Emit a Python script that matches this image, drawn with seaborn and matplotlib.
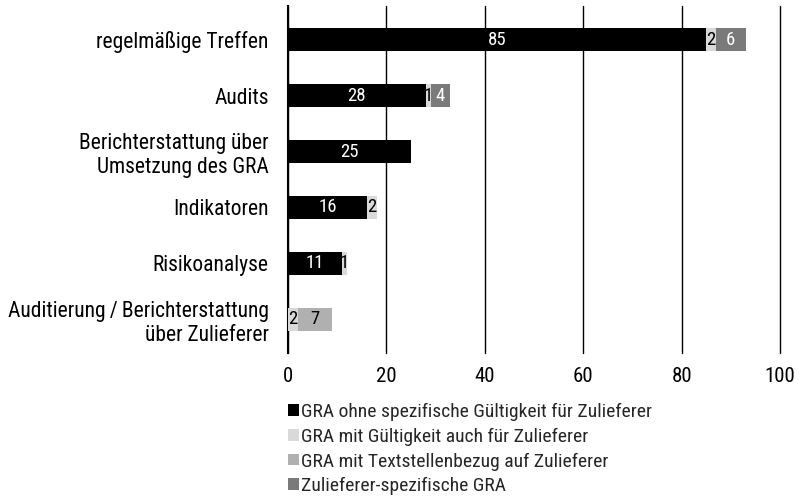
import matplotlib
matplotlib.use("Agg")
import matplotlib.pyplot as plt
import matplotlib.font_manager as fm
from matplotlib.patches import Patch
import seaborn as sns
import numpy as np
import pandas as pd

categories = ["regelmäßige Treffen", "Audits", "Berichterstattung über\nUmsetzung des GRA",
              "Indikatoren", "Risikoanalyse", "Auditierung\u2009/\u2009Berichterstattung\nüber Zulieferer"]
series_names = ["GRA ohne spezifische Gültigkeit für Zulieferer",
                "GRA mit Gültigkeit auch für Zulieferer",
                "GRA mit Textstellenbezug auf Zulieferer",
                "Zulieferer-spezifische GRA"]
ohne = [85, 28, 25, 16, 11, 0]
auch = [2, 1, 0, 2, 1, 2]
text = [0, 0, 0, 0, 0, 7]
spez = [6, 4, 0, 0, 0, 0]
colors = ["#000000", "#d9d9d9", "#b0b0b0", "#7a7a7a"]
label_colors = ["white", "black", "black", "white"]

sns.set_theme(style="white")
names = {f.name for f in fm.fontManager.ttflist}
fam = "DejaVu Sans"
for cand in ["Roboto Condensed", "Liberation Sans Narrow", "Roboto"]:
    if cand in names:
        fam = cand
        break
plt.rcParams['font.family'] = [fam, 'DejaVu Sans']

df = pd.DataFrame({"cat": categories, "s0": ohne, "s1": auch, "s2": text, "s3": spez})
vals = df[["s0", "s1", "s2", "s3"]].to_numpy()
cum = vals.cumsum(axis=1)

fig = plt.figure(figsize=(7.99, 4.98), dpi=100)
ax = fig.add_axes([288 / 799, 1 - 353 / 498, (780 - 288) / 799, 347 / 498])

# draw cumulative bars from the top layer down so they look stacked
for i in range(3, -1, -1):
    sns.barplot(x=cum[:, i], y=df["cat"], color=colors[i], orient="h",
                width=0.4, ax=ax, saturation=1, linewidth=0, zorder=3)

for r in range(len(categories)):
    left = 0
    for i in range(4):
        v = vals[r, i]
        if v > 0:
            ax.text(left + v / 2, r, str(v), ha="center", va="center",
                    color=label_colors[i], fontsize=13.5, zorder=5)
        left += v

ax.set_xlim(0, 100)
ax.set_xticks([0, 20, 40, 60, 80, 100])
ax.set_ylim(5.6, -0.6)
ax.set_xlabel("")
ax.set_ylabel("")
ax.grid(axis="x", color="black", linewidth=1, zorder=0)
for ln in ax.get_xgridlines():
    ln.set_clip_on(False)
for s in ["top", "right", "bottom"]:
    ax.spines[s].set_visible(False)
ax.spines["left"].set_color("black")
ax.spines["left"].set_linewidth(1.5)
ax.tick_params(axis="both", length=0, colors="black")
ax.tick_params(axis="x", pad=10, labelsize=15)
ax.tick_params(axis="y", pad=14, labelsize=15.5)

handles = [Patch(facecolor=c, edgecolor="none") for c in colors]
fig.legend(handles, series_names, loc="upper left", bbox_to_anchor=(288 / 799, 1 - 403 / 498),
           frameon=False, fontsize=14, handlelength=0.55, handleheight=0.55,
           handletextpad=0.12, labelspacing=0.34, borderaxespad=0, borderpad=0)

fig.savefig("out.png", dpi=100)
